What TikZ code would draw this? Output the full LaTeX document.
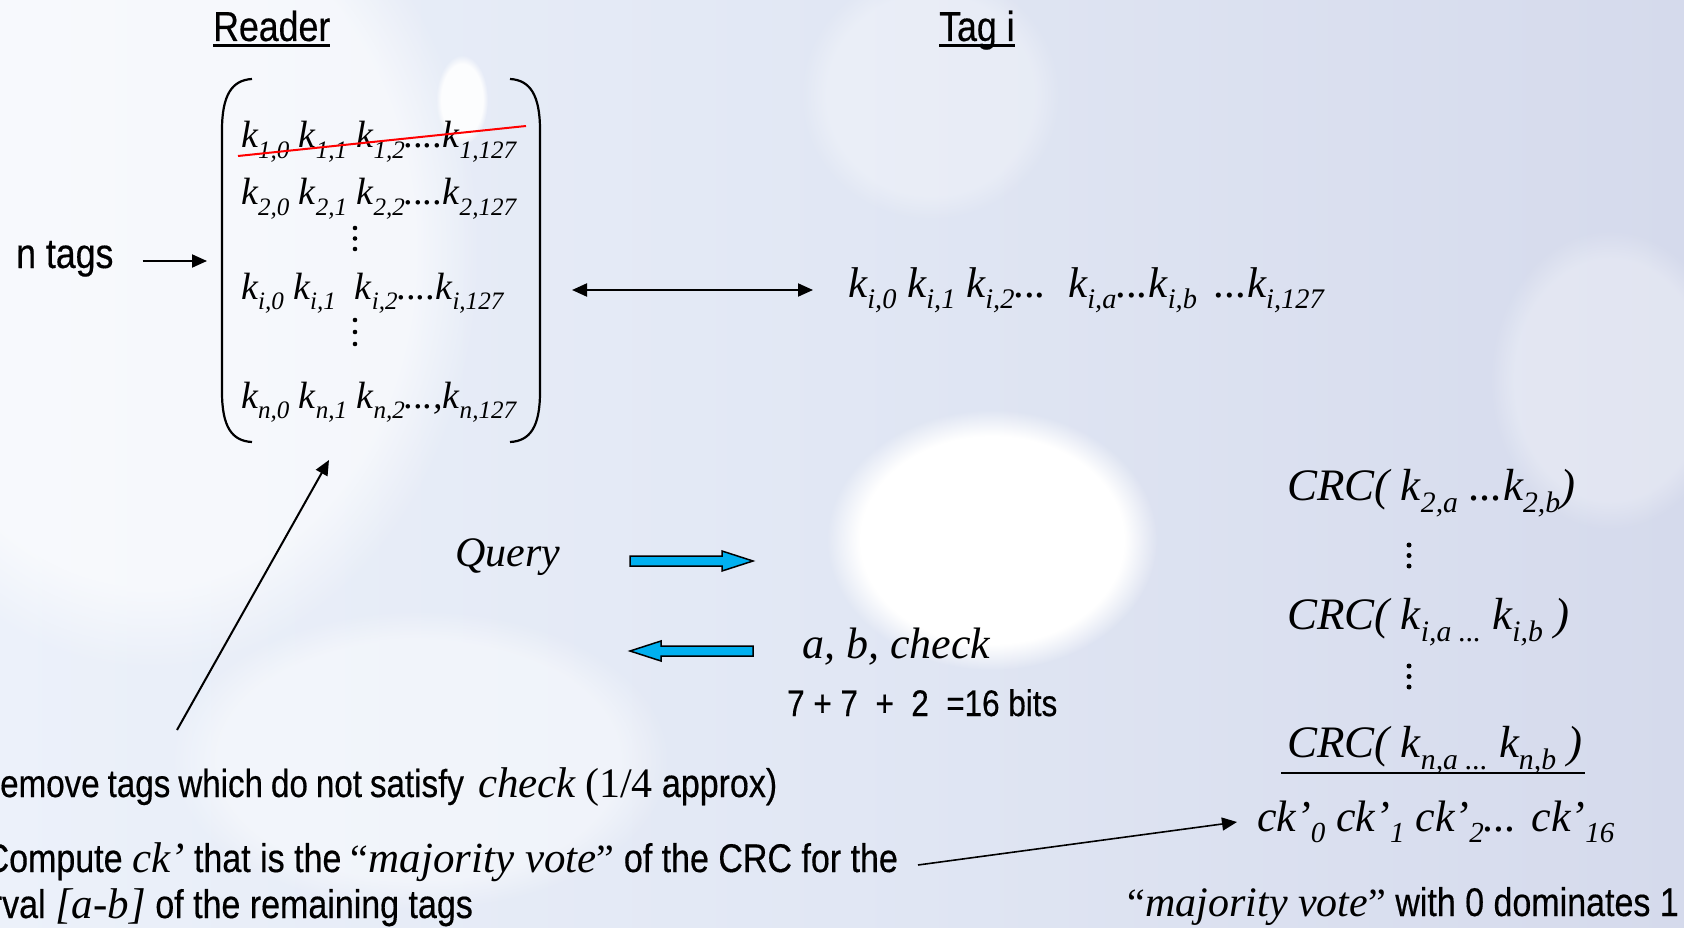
\documentclass[tikz,border=0pt]{standalone}
\usepackage{fontspec}
\setmainfont{Liberation Serif}
\newfontfamily\sans[FakeStretch=0.85,FakeBold=0.4]{Liberation Sans}
\newfontfamily\serit{Liberation Serif}
\usetikzlibrary{arrows.meta,fadings}
\makeatletter
\newcommand\kk[2]{\textit{#1}\raisebox{-0.27em}{\fontsize{\fpeval{0.66*\f@size}}{0}\selectfont\itshape #2}}
\makeatother
\newcommand\itx[1]{{\serit\itshape\fontsize{43}{50}\selectfont #1}}
\newcommand\qo{{\serit\fontsize{40}{50}\selectfont “}}
\newcommand\qc{{\serit\fontsize{40}{50}\selectfont ”}}
\newcommand\tightsp{\spaceskip=8pt\relax}
\definecolor{bgL}{RGB}{236,241,250}
\definecolor{bgM}{RGB}{225,231,244}
\definecolor{bgR}{RGB}{213,218,236}
\definecolor{blueA}{RGB}{0,176,240}
\tikzset{
  hdr/.style={font=\sans\fontsize{42}{50}\selectfont, inner sep=0, anchor=base west},
  sanstxt/.style={font=\sans\fontsize{40}{48}\selectfont, inner sep=0, anchor=base west},
  smalltxt/.style={font=\sans\fontsize{37}{44}\selectfont, inner sep=0, anchor=base west},
  mtx/.style={font=\fontsize{38}{46}\selectfont\itshape, inner sep=0, anchor=base west},
  tagtxt/.style={font=\fontsize{43}{50}\selectfont\itshape, inner sep=0, anchor=base west},
  crc/.style={font=\fontsize{45}{54}\selectfont\itshape, inner sep=0, anchor=base west},
  arr/.style={line width=2, -{Triangle[length=15pt,width=13pt]}},
  paren/.style={line width=2.2},
  blueshape/.style={fill=blueA, draw=black, line width=1.5, line join=miter},
  blob/.style={white, path fading=circle with fuzzy edge 20 percent}
}
\begin{document}
\begin{tikzpicture}[x=1pt,y=-1pt]
\useasboundingbox (0,0) rectangle (1684,928);
\begin{scope}
\clip (0,0) rectangle (1684,928);
% background
\shade[left color=bgL, right color=bgR, middle color=bgM] (0,0) rectangle (1684,928);
\fill[blob, opacity=0.6] (150,250) ellipse [x radius=330, y radius=420];
\fill[blob, opacity=0.3] (930,95) ellipse [x radius=130, y radius=125];
\fill[blob, opacity=0.3] (1610,380) ellipse [x radius=120, y radius=150];
\fill[blob] (992,540) ellipse [x radius=165, y radius=130];
\fill[blob, opacity=0.9] (462,100) ellipse [x radius=26, y radius=45];
\fill[blob, opacity=0.45] (420,760) ellipse [x radius=250, y radius=150];

% headers
\node[hdr] (reader) at (213,41) {Reader};
\draw[line width=3] ([yshift=-5]reader.base west) -- ([yshift=-5]reader.base east);
\node[hdr] (tagi) at (939,41) {Tag i};
\draw[line width=3] ([yshift=-5]tagi.base west) -- ([yshift=-5]tagi.base east);

% n tags
\node[hdr] (ntags) at (16,268) {n tags};

% matrix
\node[minimum width=318, minimum height=364, inner sep=0] (M) at (381,260) {};
\draw[paren] (252,79) .. controls (232,80) and (222,95) .. (222,130) -- (222,392) .. controls (222,427) and (232,441) .. (252,442);
\draw[paren] (510,79) .. controls (530,80) and (540,95) .. (540,130) -- (540,392) .. controls (540,427) and (530,441) .. (510,442);
\node[mtx] (r1) at (241,148) {\kk{k}{1,0} \kk{k}{1,1} \kk{k}{1,2}....\kk{k}{1,127}};
\node[mtx] (r2) at (241,205) {\kk{k}{2,0} \kk{k}{2,1} \kk{k}{2,2}....\kk{k}{2,127}};
\node[mtx] (ri) at (241,299) {\kk{k}{i,0} \kk{k}{i,1}\ \ \kk{k}{i,2}....\kk{k}{i,127}};
\node[mtx] (rn) at (241,408) {\kk{k}{n,0} \kk{k}{n,1} \kk{k}{n,2}...,\kk{k}{n,127}};
\foreach \y in {228,238.5,249,320,332,344} \fill (355,\y) circle (2.3);
\coordinate (s1) at (238,156);
\coordinate (s2) at (526,126);
\draw[red, line width=2] (s1) -- (s2);

% n tags arrow
\coordinate (nt) at (207,261);
\draw[arr] ([xshift=29]ntags.east |- nt) -- (nt);

% tag row
\node[tagtxt] (tagrow) at (848,297) {\kk{k}{i,0} \kk{k}{i,1} \kk{k}{i,2}...\, \kk{k}{i,a}...\kk{k}{i,b}\, ...\kk{k}{i,127}};
\coordinate (d1) at (572,290);
\coordinate (d2) at (813,290);
\draw[line width=2, {Triangle[length=15pt,width=13pt]}-{Triangle[length=15pt,width=13pt]}] (d1) -- (d2);

% query
\node[font=\fontsize{42}{50}\selectfont\itshape, inner sep=0, anchor=base west] (query) at (455,566) {Query};
\coordinate (q) at (630,561);
\draw[blueshape] (q) ++(0,-5) -- ++(92,0) -- ++(0,-5) -- ++(31,10) -- ++(-31,10) -- ++(0,-5) -- ++(-92,0) -- cycle;
\coordinate (ab) at (753,651);
\draw[blueshape] (ab) ++(0,-5) -- ++(-92,0) -- ++(0,-5) -- ++(-31,10) -- ++(31,10) -- ++(0,-5) -- ++(92,0) -- cycle;
\node[font=\fontsize{44}{52}\selectfont\itshape, inner sep=0, anchor=base west] (abc) at (802,658) {a, b, check};
\node[smalltxt] (bits) at (787,716) {7 + 7\ \ +\ \ 2\ \ =16 bits};

% diagonal arrow
\coordinate (g1) at (177,730);
\coordinate (g2) at (329,460);
\draw[arr] (g1) -- (g2);

% CRC column
\node[crc] (c2) at (1287,500) {CRC( \kk{k}{2,a} ...\kk{k}{2,b})};
\node[crc] (ci) at (1287,629) {CRC( \kk{k}{i,a\ ...}\ \kk{k}{i,b} )};
\node[crc] (cn) at (1287,757) {CRC( \kk{k}{n,a\ ...}\ \kk{k}{n,b} )};
\foreach \y in {545,555.5,566,666,676.5,687} \fill (1409,\y) circle (2.5);
\draw[line width=2] (1281,773) -- (1585,773);
\node[crc, font=\fontsize{44}{52}\selectfont\itshape] (ck) at (1257,831) {\kk{ck’}{0} \kk{ck’}{1} \kk{ck’}{2}... \kk{ck’}{16}};
\node[sanstxt, font=\sans\fontsize{40}{50}\selectfont, anchor=base east] (maj) at (1679,916) {\qo{\serit\itshape\fontsize{42}{50}\selectfont majority vote}\qc{} with 0 dominates 1};

% bottom-left texts
\node[sanstxt, font=\sans\fontsize{39}{48}\selectfont] (rem) at (0,797) {{\tightsp\llap{R}emove tags which do not satisfy}\hspace{14pt}\itx{check} {\serit\fontsize{42}{50}\selectfont(1/4} {\fontsize{40}{48}\selectfont approx)}};
\node[sanstxt] (comp) at (9,872) {\llap{C}ompute \itx{ck’} that is the \qo\itx{majority vote}\qc{} of the CRC for the};
\node[sanstxt] (intv) at (2,918) {\llap{inter}val \itx{[a-b]} of the remaining tags};
\coordinate (f1) at (918,865);
\coordinate (f2) at (1237,822);
\draw[arr, line width=1.6] (f1) -- (f2);
\end{scope}
\end{tikzpicture}
\end{document}
